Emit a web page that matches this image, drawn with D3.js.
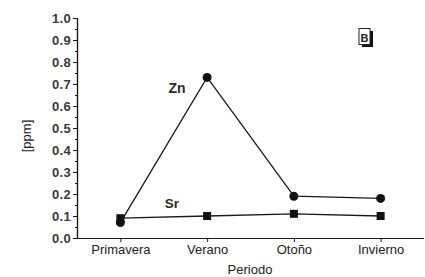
<!DOCTYPE html>
<html><head><meta charset="utf-8">
<script src="https://cdn.jsdelivr.net/npm/d3@7"></script>
<style>body{margin:0;background:#fff}svg{display:block}text{font-family:"Liberation Sans",Arial,sans-serif}</style>
</head><body>
<svg id="c" width="425" height="277"></svg>
<script>
const categories = ["Primavera","Verano","Otoño","Invierno"];
const zn = [0.07, 0.73, 0.19, 0.18];
const sr = [0.09, 0.10, 0.11, 0.10];
const yTicks = [0,0.1,0.2,0.3,0.4,0.5,0.6,0.7,0.8,0.9,1.0];

const svg = d3.select("#c");
const x = d3.scaleLinear().domain([-0.5, 3.5]).range([77, 424]);
const y = d3.scaleLinear().domain([0, 1]).range([238, 18]);
const col = "#1a1a1a";

// Y axis
const ya = svg.append("g").attr("transform","translate(77,0)")
  .call(d3.axisLeft(y).tickValues(yTicks).tickFormat(d3.format(".1f")).tickSize(4).tickPadding(2));
ya.append("g").call(d3.axisLeft(y).tickValues(d3.range(0.05,1,0.1)).tickFormat("").tickSize(2));
ya.selectAll("path").attr("stroke",col).attr("stroke-width",1.2);
ya.selectAll("line").attr("stroke",col);
ya.selectAll("text").attr("font-size",13).attr("font-weight","bold").attr("fill","#3a3a3a").attr("letter-spacing","0.3");
ya.selectAll(".tick text").attr("dy","0.35em");

// X axis
const xa = svg.append("g").attr("transform","translate(0,238)")
  .call(d3.axisBottom(x).tickValues(d3.range(categories.length)).tickFormat(i=>categories[i]).tickSize(4).tickPadding(3));
xa.select("path").attr("d","M77,0.5H424").attr("stroke",col).attr("stroke-width",1.2);
xa.selectAll("line").attr("stroke",col);
xa.selectAll("text").attr("font-size",13).attr("fill","#222");

// lines
const line = d3.line().x((d,i)=>x(i)).y(d=>y(d));
svg.append("path").attr("d",line(zn)).attr("fill","none").attr("stroke",col).attr("stroke-width",1.3);
svg.append("path").attr("d",line(sr)).attr("fill","none").attr("stroke",col).attr("stroke-width",1.3);

svg.selectAll(".zn").data(zn).enter().append("circle")
  .attr("cx",(d,i)=>x(i)).attr("cy",d=>y(d)).attr("r",4.5).attr("fill","#111");
svg.selectAll(".sr").data(sr).enter().append("rect")
  .attr("x",(d,i)=>x(i)-4).attr("y",d=>y(d)-4).attr("width",8).attr("height",8).attr("fill","#111");

// labels
svg.append("text").attr("x",177).attr("y",93).attr("text-anchor","middle").attr("font-size",14).attr("font-weight","bold").attr("fill","#2a2a2a").text("Zn");
svg.append("text").attr("x",172).attr("y",208).attr("text-anchor","middle").attr("font-size",13.5).attr("font-weight","bold").attr("fill","#2a2a2a").text("Sr");
svg.append("text").attr("transform","translate(31,136) rotate(-90)").attr("text-anchor","middle").attr("font-size",13).attr("fill","#222").text("[ppm]");
svg.append("text").attr("x",250).attr("y",274).attr("text-anchor","middle").attr("font-size",13).attr("fill","#222").text("Periodo");

// B panel label
svg.append("rect").attr("x",362).attr("y",31).attr("width",11).attr("height",16).attr("fill","#111");
svg.append("rect").attr("x",359).attr("y",28.5).attr("width",11).attr("height",16).attr("fill","#fff").attr("stroke","#222").attr("stroke-width",1);
svg.append("text").attr("x",364.5).attr("y",42).attr("text-anchor","middle").attr("font-size",11).attr("font-weight","bold").attr("fill","#222").text("B");
</script>
</body></html>
